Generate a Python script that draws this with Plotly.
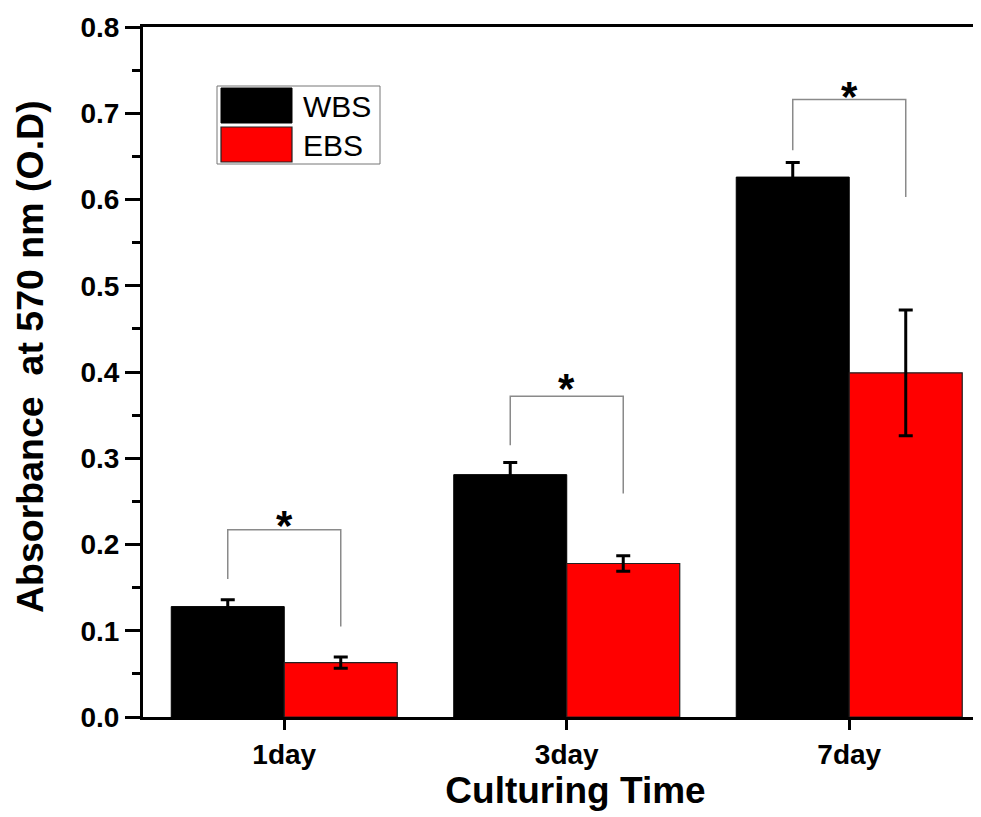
import plotly.graph_objects as go

categories = ["1day", "3day", "7day"]
wbs_values = [0.128, 0.281, 0.626]
wbs_errors = [0.008, 0.014, 0.017]
ebs_values = [0.063, 0.178, 0.399]
ebs_errors = [0.0065, 0.009, 0.073]
series_names = ["WBS", "EBS"]
y_ticks = [0.0, 0.1, 0.2, 0.3, 0.4, 0.5, 0.6, 0.7, 0.8]

# significance brackets
bracket_top = [0.217, 0.372, 0.716]
bracket_left_bottom = [0.160, 0.315, 0.657]
bracket_right_bottom = [0.105, 0.259, 0.603]
star_y = [0.234, 0.392, 0.731]

xpos = list(range(len(categories)))
off = 0.2

# page body has an 8px margin; plot area extends past the right edge of the window
W, H = 1000, 809
L, T, B, R = 135, 19, 100, 0
pw = W - L - R
ph = H - T - B


def px(xs):  # screen x -> paper
    return (xs - 8 - L) / pw


def py(ys):  # screen y -> paper
    return (H - B - (ys - 8)) / ph


fig = go.Figure()
fig.add_trace(go.Bar(
    x=xpos, y=wbs_values, name=series_names[0],
    marker=dict(color="#000000", line=dict(color="#000000", width=1)),
    error_y=dict(type="data", array=wbs_errors, visible=True, color="#000000", thickness=3, width=7),
    showlegend=False,
))
fig.add_trace(go.Bar(
    x=xpos, y=ebs_values, name=series_names[1],
    marker=dict(color="#FF0000", line=dict(color="#222222", width=1.2)),
    error_y=dict(type="data", array=ebs_errors, visible=True, color="#000000", thickness=3, width=7),
    showlegend=False,
))

for i in xpos:
    fig.add_trace(go.Scatter(
        x=[i - off, i - off, i + off, i + off],
        y=[bracket_left_bottom[i], bracket_top[i], bracket_top[i], bracket_right_bottom[i]],
        mode="lines", line=dict(color="#8a8a8a", width=1.5),
        showlegend=False, hoverinfo="skip",
    ))
    fig.add_annotation(x=i, y=star_y[i], text="<b>*</b>", showarrow=False,
                       font=dict(family="Liberation Sans", size=42, color="#000000"),
                       yanchor="middle", yshift=-10)

# manual legend (Origin-style)
fig.add_shape(type="rect", xref="paper", yref="paper", x0=px(217), x1=px(380), y0=py(164), y1=py(86),
              line=dict(color="#777777", width=1), fillcolor="white", layer="above")
fig.add_shape(type="rect", xref="paper", yref="paper", x0=px(221), x1=px(292), y0=py(123), y1=py(88),
              line=dict(color="#000000", width=1), fillcolor="#000000", layer="above")
fig.add_shape(type="rect", xref="paper", yref="paper", x0=px(221), x1=px(292), y0=py(162), y1=py(127),
              line=dict(color="#222222", width=1.2), fillcolor="#FF0000", layer="above")
fig.add_annotation(xref="paper", yref="paper", x=px(301), y=py(106), text=series_names[0], showarrow=False,
                   xanchor="left", yanchor="middle", font=dict(family="Liberation Sans", size=30, color="#000000"))
fig.add_annotation(xref="paper", yref="paper", x=px(301), y=py(146), text=series_names[1], showarrow=False,
                   xanchor="left", yanchor="middle", font=dict(family="Liberation Sans", size=30, color="#000000"))

# y-axis title (rotated)
fig.add_annotation(xref="paper", yref="paper", x=px(30), y=py(357), text="<b>Absorbance  at 570 nm (O.D)</b>",
                   textangle=-90, showarrow=False, xanchor="center", yanchor="middle",
                   font=dict(family="Liberation Sans", size=37.5, color="#000000"))

fig.update_layout(
    width=W, height=H,
    margin=dict(l=L, r=R, t=T, b=B, pad=0),
    paper_bgcolor="white", plot_bgcolor="white",
    barmode="group", bargap=0.2, bargroupgap=0,
    showlegend=False,
    font=dict(family="Liberation Sans", color="#000000"),
)
fig.update_xaxes(
    range=[-0.5, 2.562],
    tickmode="array", tickvals=xpos, ticktext=["<b>%s</b>" % c for c in categories],
    tickfont=dict(size=28, family="Liberation Sans"),
    showline=True, linecolor="#000000", linewidth=3, mirror=True,
    ticks="outside", ticklen=10, tickwidth=3, tickcolor="#000000",
    showgrid=False, zeroline=False,
    title=dict(text="<b>Culturing Time</b>", font=dict(size=37, family="Liberation Sans"), standoff=5),
)
fig.update_yaxes(
    range=[0, 0.8],
    tickmode="array", tickvals=y_ticks, ticktext=["<b>%.1f</b>" % v for v in y_ticks],
    tickfont=dict(size=28, family="Liberation Sans"),
    showline=True, linecolor="#000000", linewidth=3, mirror=False,
    ticks="outside", ticklen=15, tickwidth=3, tickcolor="#000000",
    minor=dict(ticks="outside", ticklen=8, tickwidth=3, tickcolor="#000000", dtick=0.05, showgrid=False),
    showgrid=False, zeroline=False,
)

fig.write_html("out.html")
